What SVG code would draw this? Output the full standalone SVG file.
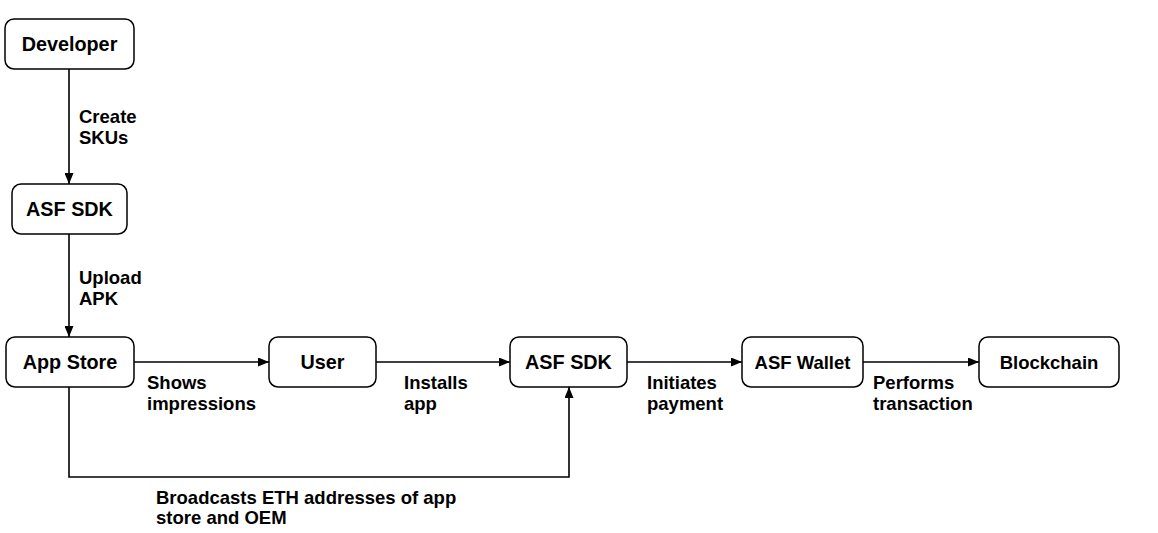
<svg xmlns="http://www.w3.org/2000/svg" width="1158" height="533" viewBox="0 0 1158 533">
<style>
.box{fill:#fff;stroke:#000;stroke-width:1.5}
.nt{font-family:"Liberation Sans",Arial,sans-serif;font-weight:bold;font-size:19.8px;text-anchor:middle;fill:#000}
.nt.s{font-size:18.5px}
.lt{font-family:"Liberation Sans",Arial,sans-serif;font-weight:bold;font-size:18.5px;fill:#000}
.ln{fill:none;stroke:#000;stroke-width:1.6}
</style>
<defs>
<marker id="ah" markerWidth="11" markerHeight="9" refX="11" refY="4.5" orient="auto" markerUnits="userSpaceOnUse">
<path d="M0,0 L11,4.5 L0,9 Z" fill="#000"/>
</marker>
</defs>
<rect width="1158" height="533" fill="#fff"/>
<g id="connectors">
<path class="ln" d="M69,69 V184" marker-end="url(#ah)"/>
<path class="ln" d="M69,234 V337" marker-end="url(#ah)"/>
<path class="ln" d="M134,362 H269" marker-end="url(#ah)"/>
<path class="ln" d="M376,362 H510" marker-end="url(#ah)"/>
<path class="ln" d="M627,362 H742" marker-end="url(#ah)"/>
<path class="ln" d="M863,362 H979" marker-end="url(#ah)"/>
<path class="ln" d="M69,387 V477 H569 V387" marker-end="url(#ah)"/>
<text class="lt" x="79" y="123">Create</text>
<text class="lt" x="79" y="144">SKUs</text>
<text class="lt" x="79" y="284">Upload</text>
<text class="lt" x="79" y="305">APK</text>
<text class="lt" x="147" y="389">Shows</text>
<text class="lt" x="147" y="410">impressions</text>
<text class="lt" x="404" y="389">Installs</text>
<text class="lt" x="404" y="410">app</text>
<text class="lt" x="647" y="389">Initiates</text>
<text class="lt" x="647" y="410">payment</text>
<text class="lt" x="873" y="389">Performs</text>
<text class="lt" x="873" y="410">transaction</text>
<text class="lt" x="156" y="504">Broadcasts ETH addresses of app</text>
<text class="lt" x="156" y="524">store and OEM</text>
</g>
<g id="developer"><rect class="box" x="5" y="19" width="129" height="50" rx="9"/><text class="nt" x="69.5" y="51">Developer</text></g>
<g id="asf-sdk-top"><rect class="box" x="12" y="184" width="115" height="50" rx="9"/><text class="nt" x="69.5" y="216">ASF SDK</text></g>
<g id="app-store"><rect class="box" x="6" y="337" width="128" height="50" rx="9"/><text class="nt" x="70" y="369">App Store</text></g>
<g id="user"><rect class="box" x="269" y="337" width="107" height="50" rx="9"/><text class="nt" x="322.5" y="369">User</text></g>
<g id="asf-sdk"><rect class="box" x="510" y="337" width="117" height="50" rx="9"/><text class="nt" x="568.5" y="369">ASF SDK</text></g>
<g id="asf-wallet"><rect class="box" x="742" y="337" width="121" height="50" rx="9"/><text class="nt s" x="802.5" y="369">ASF Wallet</text></g>
<g id="blockchain"><rect class="box" x="979" y="337" width="140" height="50" rx="9"/><text class="nt s" x="1049" y="369">Blockchain</text></g>
</svg>
